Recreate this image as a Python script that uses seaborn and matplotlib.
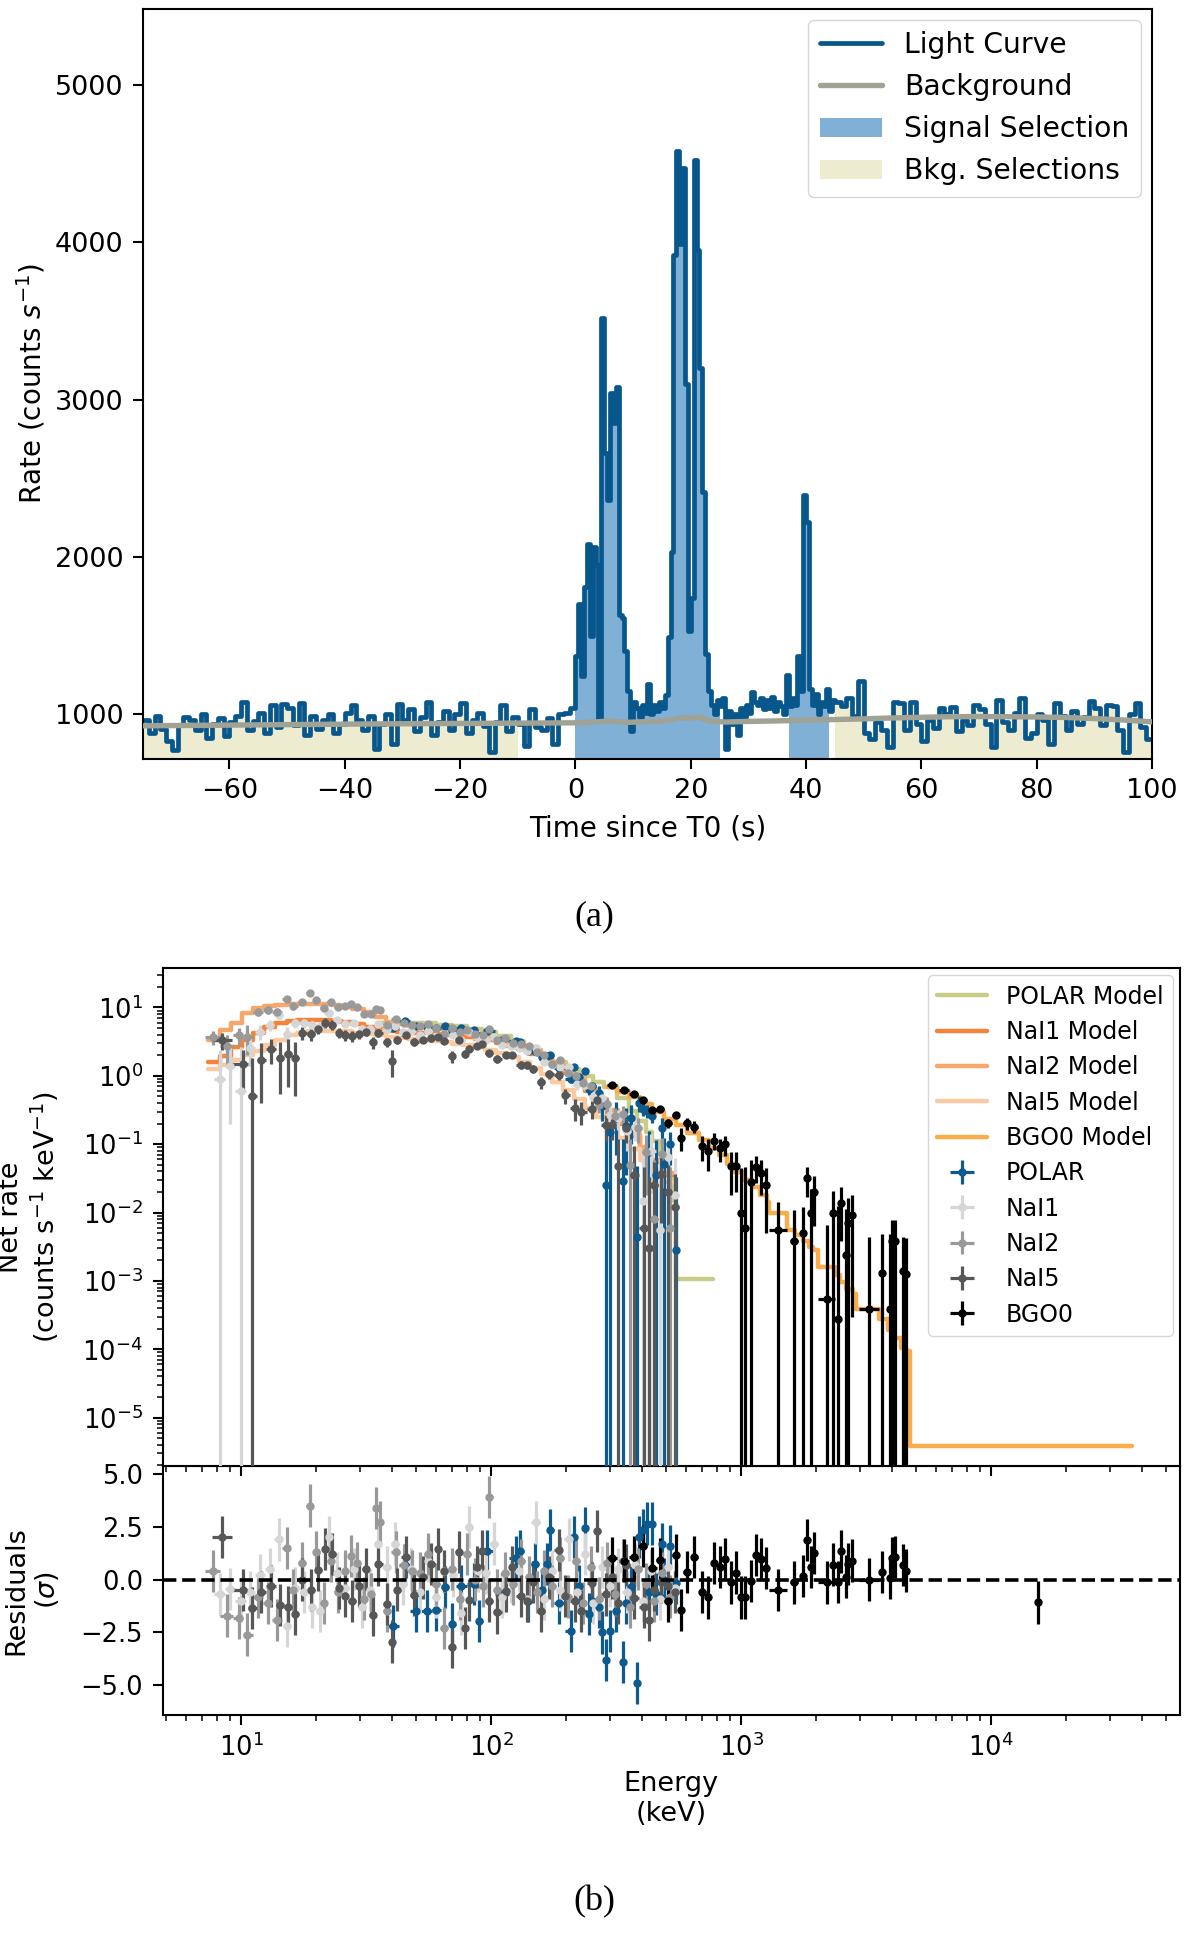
import numpy as np
import matplotlib
matplotlib.use("Agg")
import matplotlib.pyplot as plt
import seaborn as sns
from matplotlib.lines import Line2D
from matplotlib.patches import Patch
from matplotlib.ticker import NullFormatter

# ======================= panel (a): light curve =======================
# 1 s bins from -75 to 0
lc_pre = [960, 880, 990, 905, 830, 770, 930, 985, 960, 900, 1000, 850, 940, 975, 860,
          950, 990, 1080, 900, 955, 1010, 880, 1060, 920, 1065, 1040, 930, 1070, 870, 990,
          905, 960, 1000, 880, 940, 1010, 1060, 960, 900, 990, 780, 940, 1000, 810, 1065,
          960, 1030, 895, 980, 1075, 870, 950, 1020, 900, 1000, 1070, 880, 960, 1010, 925,
          760, 950, 1060, 890, 980, 940, 800, 1030, 920, 900, 975, 810, 1000, 1010, 1040]
# 0.5 s bins from 0 to 45
lc_burst = [1370, 1700, 1240, 1810, 2080, 1500, 2060, 1950, 960, 3520,
            2660, 2360, 3040, 2850, 3080, 1630, 1610, 1400, 1150, 890,
            1080, 1040, 980, 1060, 1010, 1190, 1000, 1060, 1020, 1080,
            1040, 1120, 1490, 2030, 3920, 4580, 3990, 4470, 3100, 1530,
            1740, 4520, 3950, 3200, 2410, 1380, 1150, 1060, 1000, 1090,
            1050, 1100, 780, 1020, 940, 1000, 870, 1040, 980, 1060,
            1010, 1140, 1080, 1060, 1100, 1030, 1090, 1040, 1110, 1020,
            1080, 1050, 1000, 1250, 1050, 1100, 1060, 1370, 1150, 2390,
            2220, 1160, 1060, 1130, 1000, 1080, 1050, 1160, 1020, 1090]
# 1 s bins from 45 to 100
lc_post = [1080, 1050, 1100, 990, 1210, 880, 840, 950, 900, 790, 1075, 1070, 900, 1075, 940,
           830, 960, 910, 1040, 1000, 1045, 890, 960, 930, 1060, 1030, 940, 790, 1090, 950,
           900, 1010, 1100, 850, 880, 1000, 960, 810, 1070, 990, 900, 1020, 940, 980, 1085,
           1040, 930, 1060, 1050, 900, 760, 1000, 1070, 920, 840]
bkg_time = [-75, -65, -55, -45, -35, -25, -15, -5, 0, 3, 6, 9, 12, 15, 17, 18.5, 20, 21.5,
            23, 26, 30, 35, 40, 45, 50, 55, 60, 65, 70, 75, 80, 85, 90, 95, 100]
bkg_rate = [926, 929, 932, 935, 938, 940, 942, 944, 945, 950, 956, 948, 952, 955, 968, 978,
            972, 982, 958, 950, 954, 957, 962, 966, 970, 976, 980, 984, 985, 984, 982, 979,
            972, 963, 951]
sig_intervals = [(0.0, 25.0), (37.0, 44.0)]
bkg_intervals = [(-75.0, -10.0), (45.0, 100.0)]
time_ticks = [-60, -40, -20, 0, 20, 40, 60, 80, 100]
rate_ticks = [1000, 2000, 3000, 4000, 5000]

# ======================= panel (b): spectra =======================
# models (step edges, values)
mod_nai_E = [7.4, 8.2, 9.1, 10.1, 11.2, 12.4, 13.7, 15.2, 16.8, 18.6, 20.6, 22.8, 25.2, 27.9,
             30.9, 34.2, 37.9, 42, 46.5, 51.5, 57, 63, 70, 77.5, 86, 95, 105, 116, 129, 143,
             158, 175, 194, 215, 238, 263, 291, 322, 357, 395, 437, 484, 536]
mod_nai1_V = [1.6, 1.95, 2.6, 3.3, 4.2, 5.1, 5.9, 6.3, 6.5, 6.6, 6.6, 6.4, 6.1, 5.7, 5.2, 4.8,
              4.6, 4.4, 4.3, 4.2, 4.1, 4.0, 3.85, 3.7, 3.5, 3.3, 3.05, 2.75, 2.45, 2.1, 1.75,
              1.4, 1.1, 0.82, 0.6, 0.42, 0.29, 0.2, 0.13, 0.085, 0.055, 0.036, 0.036]
mod_nai2_V = [3.3, 4.7, 5.9, 8.3, 9.7, 10.5, 10.8, 11.1, 11.2, 11.2, 11.1, 10.9, 10.3, 9.6, 8.5,
              7.2, 6.2, 5.7, 5.4, 5.2, 5.0, 4.8, 4.6, 4.35, 4.1, 3.8, 3.45, 3.1, 2.75, 2.35,
              1.95, 1.55, 1.2, 0.9, 0.65, 0.46, 0.32, 0.21, 0.14, 0.09, 0.058, 0.038, 0.038]
mod_nai5_V = [1.25, 1.45, 1.7, 2.0, 2.3, 2.8, 3.4, 3.9, 4.2, 4.5, 4.6, 4.6, 4.5, 4.3, 4.1, 3.9,
              3.7, 3.55, 3.45, 3.35, 3.25, 3.1, 2.95, 2.8, 2.6, 2.4, 2.15, 1.9, 1.6, 1.3, 1.05,
              0.82, 0.62, 0.46, 0.34, 0.25, 0.18, 0.125, 0.085, 0.058, 0.04, 0.028, 0.028]
mod_polar_E = [36, 42, 50, 60, 70, 80, 92, 105, 120, 136, 154, 175, 199, 225, 255, 284, 320,
               356, 385, 415, 442, 469, 492, 514, 528, 538, 547, 550, 773]
mod_polar_V = [6.0, 6.0, 5.9, 5.6, 5.3, 4.9, 4.4, 3.8, 3.2, 2.6, 2.05, 1.6, 1.28, 1.0, 0.82,
               0.69, 0.47, 0.31, 0.22, 0.15, 0.11, 0.077, 0.05, 0.033, 0.022, 0.015, 0.0076,
               0.00107, 0.00107]
mod_bgo_E = [291, 320, 355, 395, 440, 490, 548, 610, 681, 745, 816, 880, 949, 1025, 1107, 1190,
             1272, 1290, 1530, 1640, 1763, 1870, 1948, 2030, 2370, 2480, 2640, 2800, 2890, 3560,
             3870, 4100, 4370, 4550, 4720, 36700]
mod_bgo_V = [0.69, 0.58, 0.49, 0.39, 0.3, 0.235, 0.19, 0.145, 0.114, 0.088, 0.069, 0.052, 0.039,
             0.03, 0.0235, 0.018, 0.0142, 0.0098, 0.0056, 0.0047, 0.0038, 0.0031, 0.0028,
             0.00162, 0.0012, 0.00095, 0.00075, 0.00065, 0.00039, 0.00028, 0.00019, 0.000145,
             0.000106, 0.000095, 3.9e-6, 3.9e-6]

# POLAR data
pol_E = [40.4, 45.3, 50, 55.3, 60.5, 65.4, 70, 75.5, 85.5, 89.8, 96, 111, 126.3, 130, 140, 150,
         160, 166.8, 171.5, 187, 208, 214, 225, 237, 247, 254, 270, 278, 287, 300, 316, 338,
         345, 362, 385, 390, 405, 421, 430, 440, 455, 483, 490, 522, 547]
pol_rate = [5.08, 6.29, 5.3, 5.16, 5.05, 5.31, 4.52, 4.98, 4.63, 3.88, 4.59, 3.38, 3.22, 3.12,
            2.3, 2.33, 1.87, 1.92, 2.05, 1.29, 0.91, 1.34, 0.96, 1.19, 0.65, 0.7, 0.56, 0.36,
            0.025, 0.15, 0.24, 0.029, 0.185, 0.24, 0.0044, 0.4, 0.33, 0.31, 0.077, 0.256, 0.036,
            0.175, 0.052, 0.1, 0.0028]
pol_err = [0.42, 0.42, 0.41, 0.4, 0.39, 0.38, 0.37, 0.36, 0.33, 0.32, 0.29, 0.25, 0.21, 0.2, 0.2,
           0.18, 0.16, 0.16, 0.15, 0.145, 0.12, 0.11, 0.12, 0.11, 0.13, 0.125, 0.15, 0.145, 0.17,
           0.18, 0.17, 0.09, 0.15, 0.14, 0.044, 0.1, 0.07, 0.065, 0.08, 0.055, 0.08, 0.07, 0.07,
           0.05, 0.03]
pol_res = [-2.19, 0.7, -1.47, -1.47, -1.42, -0.36, -2.11, -0.32, -0.2, -1.95, 1.35, -0.68, 1.04,
           1.35, -1.0, 0.75, -0.5, 0.75, 2.33, -1.1, -2.43, 2.0, -0.3, 2.44, -1.63, -1.0, -1.3,
           -2.5, -3.8, -2.43, -1.47, -3.9, -1.1, -0.36, -4.9, 2.0, 2.33, 2.65, -0.6, 2.65, -0.68,
           1.67, 0.0, 1.6, -0.16]

# NaI1 data
n1_E = [8.2, 9.0, 10.0, 10.9, 11.9, 13.0, 14.2, 15.3, 16.5, 17.8, 19.2, 20.7, 22.4, 24.2, 26.1,
        28.2, 30.4, 32.8, 35.4, 38.2, 41.2, 44.5, 48.0, 51.8, 55.9, 60.3, 65.1, 70.2, 75.8, 81.8,
        88.3, 95.3, 102.8, 111, 119.8, 129.3, 139.5, 150.6, 162.5, 175.4, 189.3, 204.3, 220.5,
        238, 256.8, 277.2, 299.1, 322.8, 348.4, 376, 405.8, 438, 472.7, 510, 545]
n1_rate = [0.9, 1.4, 0.6, 2.58, 4.4, 5.6, 7.8, 4.1, 5.92, 5.96, 5.5, 5.4, 8.2, 6.6, 5.8, 6.0, 4.9,
           4.9, 5.65, 4.87, 5.37, 4.32, 4.49, 3.98, 4.5, 3.84, 4.13, 3.91, 3.37, 4.43, 3.61, 3.38,
           3.73, 2.87, 2.73, 2.53, 2.28, 2.59, 1.61, 1.46, 1.33, 1.35, 0.75, 0.73, 0.49, 0.47,
           0.265, 0.24, 0.155, 0.18, 0.015, 0.079, 0.0055, 0.066, 0.018]
n1_err = [1.5, 1.2, 2.0, 1.2, 1.1, 1.0, 1.0, 1.0, 0.95, 0.9, 0.85, 0.8, 0.8, 0.75, 0.7, 0.65, 0.6,
          0.55, 0.5, 0.45, 0.45, 0.4, 0.38, 0.36, 0.35, 0.33, 0.32, 0.3, 0.3, 0.29, 0.27, 0.26,
          0.25, 0.23, 0.21, 0.2, 0.19, 0.18, 0.16, 0.15, 0.14, 0.13, 0.12, 0.11, 0.1, 0.09, 0.085,
          0.08, 0.075, 0.07, 0.07, 0.06, 0.055, 0.05, 0.045]
n1_res = [-0.7, -0.46, -1.0, -0.6, 0.2, 0.5, 1.9, -2.2, -0.4, -0.6, -1.3, -1.5, 2.0, 0.3, -0.4,
          0.5, -1.3, -0.5, 1.7, 0.6, 1.7, -0.2, 0.5, -0.6, 0.9, -0.8, 0.4, 0.2, -1.6, 2.5, 0.4,
          0.3, 1.7, -0.8, -0.1, 0.4, -0.9, 2.7, -0.9, 0.4, -0.5, 1.9, -0.6, 1.2, -1.1, 0.6, -0.3,
          0.5, -0.6, 0.7, -1.0, 0.4, -0.9, 0.6, -0.4]

# NaI2 data
n2_E = [7.7, 8.8, 9.8, 10.6, 11.7, 12.8, 13.9, 15.3, 16.2, 17.5, 18.8, 20.0, 21.4, 22.8, 24.5,
        26.0, 27.5, 29.2, 31.0, 33.0, 34.8, 35.8, 38.3, 41.5, 44.8, 48.3, 52.0, 56.0, 60.2, 64.6,
        69.5, 74.8, 80.4, 86.4, 92.9, 98.0, 106, 114, 122.5, 131.7, 141.6, 152.2, 163.6, 175.9,
        189, 203, 218, 234, 252, 271, 291, 313, 336, 361, 388, 417, 448, 482, 518]
n2_rate = [3.7, 2.7, 3.9, 3.75, 8.7, 9.2, 8.6, 13.1, 10.5, 12.2, 16.1, 12.7, 9.9, 11.9, 10.3, 10.6,
           11.3, 10.2, 7.9, 8.1, 9.5, 9.1, 5.45, 6.85, 6.0, 5.57, 5.32, 5.66, 4.93, 4.06, 4.96,
           4.33, 4.71, 4.1, 4.02, 4.85, 3.33, 3.52, 3.06, 2.93, 2.77, 2.25, 2.01, 1.5, 1.69, 1.1,
           1.0, 0.78, 0.71, 0.38, 0.39, 0.26, 0.28, 0.05, 0.175, 0.078, 0.008, 0.073, 0.006]
n2_err = [0.9, 1.2, 1.1, 1.75, 1.25, 1.2, 1.15, 1.3, 1.25, 1.25, 1.4, 1.2, 1.1, 1.1, 1.0, 0.9, 0.9,
          0.8, 0.7, 0.6, 0.7, 0.7, 0.5, 0.5, 0.45, 0.42, 0.4, 0.38, 0.35, 0.32, 0.32, 0.3, 0.3,
          0.28, 0.27, 0.27, 0.24, 0.22, 0.2, 0.2, 0.18, 0.17, 0.16, 0.15, 0.14, 0.13, 0.12, 0.11,
          0.1, 0.09, 0.09, 0.08, 0.08, 0.07, 0.07, 0.06, 0.05, 0.05, 0.04]
n2_res = [0.4, -1.7, -1.8, -2.6, -0.8, -1.1, -1.9, 1.5, -0.5, 0.8, 3.5, 1.3, -1.1, 0.9, -0.6, 0.4,
          1.1, 0.8, -0.9, -0.7, 3.4, 2.7, -1.5, 1.3, 0.7, 0.4, 0.3, 1.2, -0.2, -2.3, 0.5, -0.9,
          1.2, 0.0, -0.3, 3.9, -0.5, 0.3, -0.2, 0.9, 0.1, -0.6, 0.4, -0.3, 1.0, -0.8, 0.9, -1.1,
          0.6, -0.9, 0.8, -0.7, 0.9, -1.3, 0.5, -0.2, -1.0, 0.3, -0.8]

# NaI5 data
n5_E = [8.4, 10.15, 11.1, 12.0, 13.2, 14.3, 15.35, 16.5, 17.6, 19.0, 20.4, 21.7, 23.2, 24.7, 26.0,
        27.8, 29.7, 31.5, 33.6, 35.3, 38.5, 40.1, 42.1, 45.5, 49.3, 53.3, 57.5, 61.6, 64.8, 69.7,
        74.5, 78.7, 81.6, 88.0, 91.8, 98.3, 106, 114.5, 121, 132, 139, 147.5, 158, 170, 187, 198,
        216, 230, 254, 265, 287, 304, 322, 348, 373, 410, 430, 450, 480, 510, 545]
n5_rate = [3.3, 1.5, 0.5, 1.7, 2.5, 1.84, 2.08, 1.8, 4.2, 4.07, 4.9, 5.98, 5.6, 4.3, 3.93, 3.8, 4.1,
           4.4, 3.1, 4.3, 3.12, 1.65, 3.34, 4.0, 3.16, 3.4, 3.52, 3.75, 3.24, 1.92, 3.37, 2.11, 2.5,
           2.77, 2.96, 2.15, 1.79, 2.03, 2.02, 1.46, 1.42, 1.28, 0.81, 1.06, 1.02, 0.52, 0.34, 0.3,
           0.33, 0.45, 0.19, 0.19, 0.048, 0.17, 0.035, 0.006, 0.003, 0.025, 0.037, 0.02, 0.012]
n5_err = [0.95, 0.9, 1.3, 1.3, 1.0, 1.3, 1.4, 1.3, 0.9, 0.85, 0.85, 0.95, 0.85, 0.75, 0.75, 0.7,
          0.65, 0.6, 0.6, 0.55, 0.5, 0.7, 0.45, 0.42, 0.4, 0.38, 0.36, 0.35, 0.34, 0.37, 0.32, 0.3,
          0.3, 0.28, 0.27, 0.25, 0.23, 0.22, 0.2, 0.19, 0.18, 0.17, 0.16, 0.15, 0.14, 0.13, 0.12,
          0.11, 0.1, 0.09, 0.08, 0.075, 0.07, 0.065, 0.06, 0.04, 0.03, 0.03, 0.03, 0.03, 0.025]
n5_res = [2.0, -0.5, -1.35, -0.6, -0.3, -1.2, -1.3, -1.63, 0.0, -0.5, 0.46, 1.45, 1.2, -0.4, -0.76,
          -1.0, -0.3, 0.5, -1.66, 0.72, -1.15, -2.93, -0.47, 1.06, -0.73, 0.1, 0.75, 1.45, 0.4,
          -3.2, 1.3, -2.3, -0.95, 0.6, 1.35, -1.0, -1.55, -0.55, 0.6, -0.76, -1.0, -0.1, -1.5, 0.1,
          1.4, -0.76, -1.0, -1.5, -0.16, 2.3, -0.7, 0.1, -1.1, 0.7, -0.85, -1.3, -1.9, -0.5, -0.1,
          -0.3, -0.6]

# BGO0 data
bgo_E = [305, 340, 372, 405, 442, 475, 510, 547, 575, 606, 650, 700, 736, 780, 824, 864, 909, 957,
         997, 1038, 1096, 1145, 1206, 1260, 1405, 1626, 1770, 1832, 1896, 1960, 2200, 2340, 2440,
         2514, 2620, 2680, 2770, 3260, 3656, 3925, 4016, 4130, 4440, 4580, 15440]
bgo_dE = [15, 16, 16, 17, 18, 17, 18, 18, 12, 18, 22, 22, 16, 22, 20, 20, 22, 24, 18, 22, 28, 24,
          30, 25, 115, 60, 40, 25, 30, 30, 170, 40, 40, 35, 45, 30, 50, 300, 80, 60, 40, 60, 90,
          60, 0]
bgo_rate = [0.74, 0.62, 0.534, 0.45, 0.32, 0.33, 0.205, 0.27, 0.125, 0.204, 0.18, 0.093, 0.08,
            0.113, 0.088, 0.1, 0.048, 0.048, 0.01, 0.006, 0.028, 0.047, 0.038, 0.025, 0.0055,
            0.0038, 0.005, 0.032, 0.010, 0.0203, 0.00054, 0.0097, 0.00028, 0.0138, 0.0024, 0.0071,
            0.0093, 0.00039, 0.0013, 0.00039, 0.0038, 0.0039, 0.0014, 0.00125, np.nan]
bgo_err = [0.05, 0.045, 0.042, 0.038, 0.035, 0.033, 0.03, 0.03, 0.045, 0.04, 0.035, 0.037, 0.04,
           0.032, 0.033, 0.032, 0.03, 0.028, 0.035, 0.04, 0.03, 0.02, 0.02, 0.02, 0.009, 0.007,
           0.007, 0.015, 0.012, 0.014, 0.006, 0.011, 0.012, 0.01, 0.009, 0.009, 0.009, 0.004,
           0.0035, 0.0045, 0.004, 0.004, 0.003, 0.003, np.nan]
bgo_res = [1.0, 0.9, 1.05, 1.6, 0.56, 0.95, -1.0, 1.14, -1.44, 0.35, 1.06, -0.57, -0.84, 0.78, 0.59,
           0.98, -0.13, 0.33, -0.84, -0.84, -0.05, 1.17, 0.98, 0.56, -0.48, -0.13, 0.16, 1.86,
           0.59, 1.25, -0.13, 0.71, -0.1, 1.33, 0.14, 0.75, 0.9, 0.0, 0.35, 0.06, 1.0, 1.06, 0.7,
           0.43, -1.08]

# ======================= styling =======================
sns.set_theme(style="ticks")
plt.rcParams.update({
    "font.family": ["DejaVu Sans"],
    "mathtext.fontset": "dejavusans",
    "axes.edgecolor": "black", "axes.labelcolor": "black", "text.color": "black",
    "xtick.color": "black", "ytick.color": "black",
    "axes.linewidth": 1.5,
    "xtick.major.width": 1.5, "ytick.major.width": 1.5,
    "xtick.minor.width": 1.1, "ytick.minor.width": 1.1,
    "xtick.major.size": 7, "ytick.major.size": 7,
    "xtick.minor.size": 4, "ytick.minor.size": 4,
    "xtick.major.pad": 6.5, "ytick.major.pad": 7,
    "xtick.minor.pad": 6.5, "ytick.minor.pad": 7,
    "legend.edgecolor": "0.8",
})

C_LC, C_BG, C_SIG, C_BKG = "#07568c", "#a0a294", "#80b0d5", "#eeecd0"
C_POL, C_N1, C_N2, C_N5, C_BGO = "#0d5a8e", "#d6d6d6", "#999999", "#575757", "#000000"
M_POL, M_N1, M_N2, M_N5, M_BGO = "#c9cc86", "#f5843a", "#f7a66c", "#fbcaa0", "#fbad4b"

W, H = 1200, 1935
fig = plt.figure(figsize=(W / 100, H / 100), dpi=100)

def rect(l, t, r, b):
    return [l / W, 1 - b / H, (r - l) / W, (b - t) / H]

axA = fig.add_axes(rect(143, 8.6, 1152, 759))
axB = fig.add_axes(rect(162.5, 968, 1180, 1466))
axR = fig.add_axes(rect(162.5, 1466, 1180, 1715), sharex=axB)

# ---------------- panel (a) ----------------
edges = np.concatenate([np.arange(-75, 0, 1.0), np.arange(0, 45, 0.5), np.arange(45, 101, 1.0)])
rate = np.array(lc_pre + lc_burst + lc_post, dtype=float)

def fill_sel(lo, hi, color):
    m = (edges[:-1] >= lo - 1e-9) & (edges[1:] <= hi + 1e-9)
    idx = np.where(m)[0]
    axA.stairs(rate[idx], edges[idx[0]:idx[-1] + 2], baseline=0, fill=True,
               color=color, lw=0, zorder=1)

for lo, hi in bkg_intervals:
    fill_sel(lo, hi, C_BKG)
for lo, hi in sig_intervals:
    fill_sel(lo, hi, C_SIG)

sns.lineplot(x=edges, y=np.append(rate, rate[-1]), ax=axA, drawstyle="steps-post",
             color=C_LC, lw=3.4, estimator=None, sort=False, zorder=2)
sns.lineplot(x=bkg_time, y=bkg_rate, ax=axA, color=C_BG, lw=3.9, estimator=None,
             sort=False, zorder=3)

axA.set_xlim(-75, 100)
axA.set_ylim(715, 5485)
axA.set_xticks(time_ticks)
axA.set_yticks(rate_ticks)
axA.tick_params(labelsize=19.5)
axA.set_xlabel("Time since T0 (s)", fontsize=20)
axA.set_ylabel(r"Rate (counts $s^{-1}$)", fontsize=20)
axA.xaxis.set_label_coords(0.5, -0.074)
axA.yaxis.set_label_coords(-0.095, 0.5)

hA = [Line2D([0], [0], color=C_LC, lw=3.4), Line2D([0], [0], color=C_BG, lw=3.9),
      Patch(facecolor=C_SIG, edgecolor="none"), Patch(facecolor=C_BKG, edgecolor="none")]
axA.legend(hA, ["Light Curve", "Background", "Signal Selection", "Bkg. Selections"],
           loc="upper right", fontsize=20.3, handlelength=2.2, borderaxespad=0.4,
           labelspacing=0.5)

# ---------------- panel (b) ----------------
axB.set_xscale("log")
axB.set_yscale("log")
axB.set_xlim(4.85, 5.7e4)
axB.set_ylim(1.96e-6, 37.8)

models = [(mod_polar_E, mod_polar_V, M_POL, "POLAR Model"),
          (mod_nai_E, mod_nai1_V, M_N1, "NaI1 Model"),
          (mod_nai_E, mod_nai2_V, M_N2, "NaI2 Model"),
          (mod_nai_E, mod_nai5_V, M_N5, "NaI5 Model"),
          (mod_bgo_E, mod_bgo_V, M_BGO, "BGO0 Model")]
handles, labels = [], []
for E, V, c, lab in models:
    sns.lineplot(x=E, y=V, ax=axB, drawstyle="steps-post", color=c, lw=3.2,
                 estimator=None, sort=False, zorder=2)
    handles.append(Line2D([0], [0], color=c, lw=3.2))
    labels.append(lab)

def geo_halfwidths(E):
    E = np.asarray(E, dtype=float)
    mid = np.sqrt(E[1:] * E[:-1])
    lo = np.empty_like(E)
    hi = np.empty_like(E)
    lo[1:] = mid
    hi[:-1] = mid
    lo[0] = E[0] ** 2 / mid[0]
    hi[-1] = E[-1] ** 2 / mid[-1]
    return np.vstack([E - lo, hi - E])

dets = [("POLAR", pol_E, pol_rate, pol_err, pol_res, C_POL, geo_halfwidths(pol_E)),
        ("NaI1", n1_E, n1_rate, n1_err, n1_res, C_N1, geo_halfwidths(n1_E)),
        ("NaI2", n2_E, n2_rate, n2_err, n2_res, C_N2, geo_halfwidths(n2_E)),
        ("NaI5", n5_E, n5_rate, n5_err, n5_res, C_N5, geo_halfwidths(n5_E)),
        ("BGO0", bgo_E, bgo_rate, bgo_err, bgo_res, C_BGO, np.asarray(bgo_dE, dtype=float))]

for name, E, R, Er, Res, c, xe in dets:
    cont = axB.errorbar(E, R, xerr=xe, yerr=Er, fmt="o", ms=5, color=c, ecolor=c,
                        elinewidth=2.3, capsize=0, zorder=3)
    axR.errorbar(E, Res, xerr=xe, yerr=np.ones(len(E)), fmt="o", ms=5, color=c, ecolor=c,
                 elinewidth=2.3, capsize=0, zorder=3)
    handles.append(cont)
    labels.append(name)

axB.legend(handles, labels, loc="upper right", fontsize=17, handlelength=2.1,
           borderaxespad=0.3, labelspacing=0.48)
axB.tick_params(which="both", labelbottom=False, labelsize=18.5)
axB.yaxis.set_minor_formatter(NullFormatter())
axB.xaxis.set_minor_formatter(NullFormatter())
axB.set_ylabel("Net rate\n" + r"(counts s$^{-1}$ keV$^{-1}$)", fontsize=19.5,
               linespacing=1.15)
axB.yaxis.set_label_coords(-0.1, 0.5)

axR.axhline(0, color="black", ls="--", lw=2.6, zorder=5)
axR.set_ylim(-6.4, 5.37)
axR.set_yticks([-5, -2.5, 0, 2.5, 5])
axR.tick_params(which="both", labelsize=18.5)
axR.xaxis.set_minor_formatter(NullFormatter())
axR.set_facecolor("none")
axB.set_zorder(axR.get_zorder() + 1)
axR.set_ylabel("Residuals\n" + r"($\sigma$)", fontsize=19.5, linespacing=1.15)
axR.yaxis.set_label_coords(-0.1, 0.5)
axR.set_xlabel("Energy\n(keV)", fontsize=19.5)
axR.xaxis.set_label_coords(0.5, -0.225)

# captions
fig.text(594 / W, 1 - 917 / H, "(a)", ha="center", va="center", fontsize=26,
         family=["Liberation Serif", "DejaVu Serif"])
fig.text(594 / W, 1 - 1902 / H, "(b)", ha="center", va="center", fontsize=26,
         family=["Liberation Serif", "DejaVu Serif"])

fig.savefig("out.png", dpi=100)
